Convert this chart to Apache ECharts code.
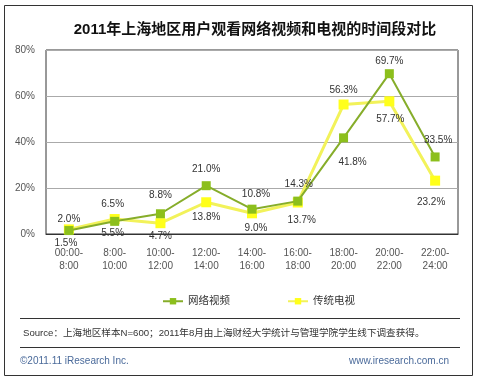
<!DOCTYPE html>
<html><head><meta charset="utf-8">
<script src="https://cdn.jsdelivr.net/npm/echarts@6/dist/echarts.min.js"></script>
<style>html,body{margin:0;padding:0;background:#fff}#c{width:480px;height:378px}</style>
</head><body><div id="c"></div>
<script>
const categories = ['00:00-\n8:00','8:00-\n10:00','10:00-\n12:00','12:00-\n14:00','14:00-\n16:00','16:00-\n18:00','18:00-\n20:00','20:00-\n22:00','22:00-\n24:00'];
const onlineVideo = [1.5, 5.5, 8.8, 21.0, 10.8, 14.3, 41.8, 69.7, 33.5];
const tradTV = [2.0, 6.5, 4.7, 13.8, 9.0, 13.7, 56.3, 57.7, 23.2];
const yTicks = [0, 20, 40, 60, 80];
// label placement (pixel offsets from the point, layout only)
const onlineLabelOffset = [[-3,13],[-2,12],[0,-19],[0,-16],[4,-15],[1,-17],[9,24],[0,-12],[3,-17]];
const tvLabelOffset = [[0,-10],[-2,-15],[0,13],[0,15],[4,15],[4,18],[0,-14],[1,18],[-4,22]];

const latin = 'Liberation Sans, DejaVu Sans, sans-serif';
const cjk = 'Liberation Sans, Noto Sans CJK SC, sans-serif';

function mk(vals, offs){
  return vals.map((v,i)=>({value:v, label:{position:'inside', offset:offs[i]}}));
}
const chart = echarts.init(document.getElementById('c'), null, {renderer:'canvas'});
chart.setOption({
  animation:false,
  backgroundColor:'#fff',
  title:{text:'2011年上海地区用户观看网络视频和电视的时间段对比', left:250, top:17, textAlign:'center',
    textStyle:{fontFamily:cjk, fontSize:15, fontWeight:'bold', color:'#111'}},
  grid:{left:46, right:22, top:50, bottom:144, show:true, borderColor:'#333', borderWidth:1},
  legend:{left:157, top:291, itemWidth:20, itemHeight:8, itemGap:57,
    textStyle:{fontFamily:cjk, fontSize:10.5, color:'#333'},
    data:['网络视频','传统电视']},
  xAxis:{type:'category', data:categories, boundaryGap:true,
    axisLine:{show:true, lineStyle:{color:'#333'}}, axisTick:{show:false},
    axisLabel:{fontFamily:latin, fontSize:10, color:'#555', margin:13, lineHeight:13}},
  yAxis:{type:'value', min:yTicks[0], max:yTicks[yTicks.length-1], interval:20,
    axisLine:{show:false}, axisTick:{show:false},
    axisLabel:{fontFamily:latin, fontSize:10, color:'#555', margin:11, formatter:'{value}%'},
    splitLine:{lineStyle:{color:'#aaa'}}},
  series:[
    {name:'网络视频', type:'line', data:mk(onlineVideo, onlineLabelOffset), symbol:'rect', symbolSize:9,
      lineStyle:{color:'#86ad2a', width:2}, itemStyle:{color:'#8cbf1c'}, z:3,
      label:{show:true, formatter:p=>p.value.toFixed(1)+'%', fontFamily:latin, fontSize:10, color:'#333'}},
    {name:'传统电视', type:'line', data:mk(tradTV, tvLabelOffset), symbol:'rect', symbolSize:10,
      lineStyle:{color:'#f2f25a', width:3}, itemStyle:{color:'#ffff1a'}, z:2,
      label:{show:true, formatter:p=>p.value.toFixed(1)+'%', fontFamily:latin, fontSize:10, color:'#333'}}
  ],
  graphic:[
    {type:'rect', shape:{x:4.5, y:5.5, width:468, height:370}, style:{fill:null, stroke:'#333', lineWidth:1}, silent:true},
    {type:'line', shape:{x1:20, y1:318.5, x2:460, y2:318.5}, style:{stroke:'#333', lineWidth:1}},
    {type:'line', shape:{x1:20, y1:347.5, x2:460, y2:347.5}, style:{stroke:'#333', lineWidth:1}},
    {type:'text', x:23, y:333, style:{text:'Source：上海地区样本N=600；2011年8月由上海财经大学统计与管理学院学生线下调查获得。', fontFamily:cjk, fontSize:9.6, fill:'#333', verticalAlign:'middle'}},
    {type:'text', x:20, y:361, style:{text:'©2011.11 iResearch Inc.', fontFamily:latin, fontSize:10, fill:'#4a6a9a', verticalAlign:'middle'}},
    {type:'text', x:449, y:361, style:{text:'www.iresearch.com.cn', fontFamily:latin, fontSize:10, fill:'#4a6a9a', align:'right', verticalAlign:'middle'}}
  ]
});
</script></body></html>
